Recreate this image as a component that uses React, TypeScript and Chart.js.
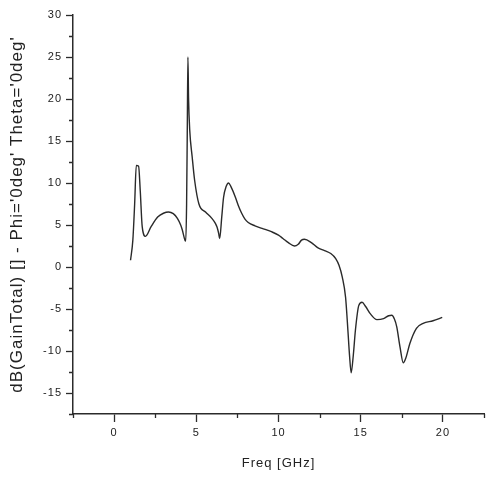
import React, { useEffect, useRef } from "react";
import { Chart, registerables } from "chart.js";

Chart.register(...registerables);

// Frequency (GHz) and gain (dB)
const freqGHz = [
  1.0, 1.14, 1.25, 1.35, 1.49, 1.59, 1.71, 1.91, 2.25, 2.65, 3.0, 3.31, 3.6, 3.85,
  4.05, 4.15, 4.31, 4.36, 4.41, 4.45, 4.49, 4.53, 4.6, 4.75, 4.9, 5.16, 5.56, 5.96,
  6.16, 6.26, 6.36, 6.42, 6.55, 6.66, 6.82, 6.96, 7.1, 7.36, 7.56, 7.76, 7.96, 8.16,
  8.57, 9.0, 9.57, 10.0, 10.27, 10.6, 10.97, 11.2, 11.4, 11.58, 12.0, 12.38, 12.8,
  13.18, 13.48, 13.68, 13.88, 14.08, 14.22, 14.32, 14.42, 14.55, 14.68, 14.88, 15.08,
  15.3, 15.58, 15.99, 16.39, 16.7, 16.89, 17.05, 17.19, 17.39, 17.59, 17.75, 17.99,
  18.39, 18.8, 19.4, 19.96,
];
const gainDb = [
  0.8, 3.2, 7.5, 12.1, 12.0, 9.1, 4.8, 3.65, 4.8, 5.95, 6.4, 6.55, 6.35, 5.8,
  5.0, 4.4, 3.2, 3.1, 7.5, 15.9, 25.0, 20.0, 16.3, 13.1, 10.3, 7.5, 6.55, 5.76,
  5.2, 4.76, 4.0, 3.38, 6.0, 8.3, 9.6, 10.0, 9.6, 8.4, 7.3, 6.4, 5.7, 5.3,
  4.9, 4.6, 4.2, 3.8, 3.4, 2.9, 2.5, 2.7, 3.2, 3.3, 2.9, 2.3, 1.95,
  1.6, 1.0, 0.2, -1.2, -3.6, -7.5, -10.5, -12.6, -10.5, -7.5, -4.6, -4.2,
  -4.7, -5.55, -6.27, -6.15, -5.8, -5.75, -6.2, -7.1, -9.5, -11.4, -10.8, -9.1,
  -7.3, -6.7, -6.4, -6.0,
];

const xTitle = "Freq [GHz]";
const yTitle = "dB(GainTotal) [] - Phi='0deg' Theta='0deg'";
const xRange = [-2.5, 22.5];
const yRange = [-17.5, 30];
const minorStep = 2.5;
const majorStep = 5;

const AXIS = "#2b2b2b";
const FONT = '"Liberation Sans", Arial, sans-serif';

const isMajor = (v: number) => {
  const r = ((v % majorStep) + majorStep) % majorStep;
  return r < 0.01 || r > majorStep - 0.01;
};

const spacingPlugin = {
  id: "spacing",
  beforeLayout(chart: any) {
    chart.ctx.letterSpacing = "1px";
  },
  beforeDraw(chart: any) {
    chart.ctx.letterSpacing = "1px";
  },
};

const minorTicksPlugin = {
  id: "minorTicks",
  afterDraw(chart: any) {
    const ctx = chart.ctx;
    const xs = chart.scales.x;
    const ys = chart.scales.y;
    ctx.save();
    ctx.strokeStyle = AXIS;
    ctx.lineWidth = 1.3;
    ctx.beginPath();
    xs.ticks.forEach((t: any) => {
      if (!isMajor(t.value)) {
        const px = Math.round(xs.getPixelForValue(t.value)) + 0.5;
        ctx.moveTo(px, xs.top);
        ctx.lineTo(px, xs.top + 4);
      }
    });
    ys.ticks.forEach((t: any) => {
      if (!isMajor(t.value)) {
        const py = Math.round(ys.getPixelForValue(t.value)) + 0.5;
        ctx.moveTo(ys.right - 4, py);
        ctx.lineTo(ys.right, py);
      }
    });
    ctx.stroke();
    ctx.restore();
  },
};

export default function App() {
  const ref = useRef<HTMLCanvasElement | null>(null);

  useEffect(() => {
    if (!ref.current) return;
    const points = freqGHz.map((f, i) => ({ x: f, y: gainDb[i] }));
    const tickColor = (c: any) =>
      c.tick && isMajor(c.tick.value) ? AXIS : "rgba(0,0,0,0)";
    const chart = new Chart(ref.current, {
      type: "line",
      data: {
        datasets: [
          {
            data: points,
            borderColor: "#2a2a2a",
            borderWidth: 1.4,
            pointRadius: 0,
            fill: false,
            cubicInterpolationMode: "monotone",
          },
        ],
      },
      plugins: [spacingPlugin, minorTicksPlugin],
      options: {
        animation: false,
        responsive: true,
        maintainAspectRatio: false,
        layout: { padding: { top: 15, right: 0, left: 0, bottom: 0 } },
        plugins: {
          legend: { display: false },
          tooltip: { enabled: false },
        },
        scales: {
          x: {
            type: "linear",
            min: xRange[0],
            max: xRange[1],
            afterFit: (s: any) => {
              s.height = 63;
            },
            border: { display: true, color: AXIS, width: 1.5 },
            grid: {
              drawOnChartArea: false,
              drawTicks: true,
              tickLength: 8,
              tickColor,
              tickWidth: 1.3,
            },
            ticks: {
              stepSize: minorStep,
              autoSkip: false,
              maxRotation: 0,
              padding: 4,
              color: "#222",
              font: { family: FONT, size: 11 },
              callback: (v: any) => (isMajor(Number(v)) ? String(Math.round(Number(v))) : ""),
            },
            title: {
              display: true,
              text: xTitle,
              color: "#222",
              font: { family: FONT, size: 13 },
              padding: { top: 0, bottom: 6 },
            },
          },
          y: {
            type: "linear",
            min: yRange[0],
            max: yRange[1],
            afterFit: (s: any) => {
              s.width = 73;
            },
            border: { display: true, color: AXIS, width: 1.5 },
            grid: {
              drawOnChartArea: false,
              drawTicks: true,
              tickLength: 7,
              tickColor,
              tickWidth: 1.3,
            },
            ticks: {
              stepSize: minorStep,
              autoSkip: false,
              padding: 4,
              color: "#222",
              font: { family: FONT, size: 11 },
              callback: (v: any) => (isMajor(Number(v)) ? String(Math.round(Number(v))) : ""),
            },
            title: {
              display: true,
              text: yTitle,
              color: "#222",
              font: { family: FONT, size: 17 },
              padding: { top: 7, bottom: 0 },
            },
          },
        },
      },
    } as any);
    return () => chart.destroy();
  }, []);

  return (
    <div style={{ position: "fixed", left: 0, top: 0, width: 488, height: 477, background: "#fff" }}>
      <canvas ref={ref} />
    </div>
  );
}
